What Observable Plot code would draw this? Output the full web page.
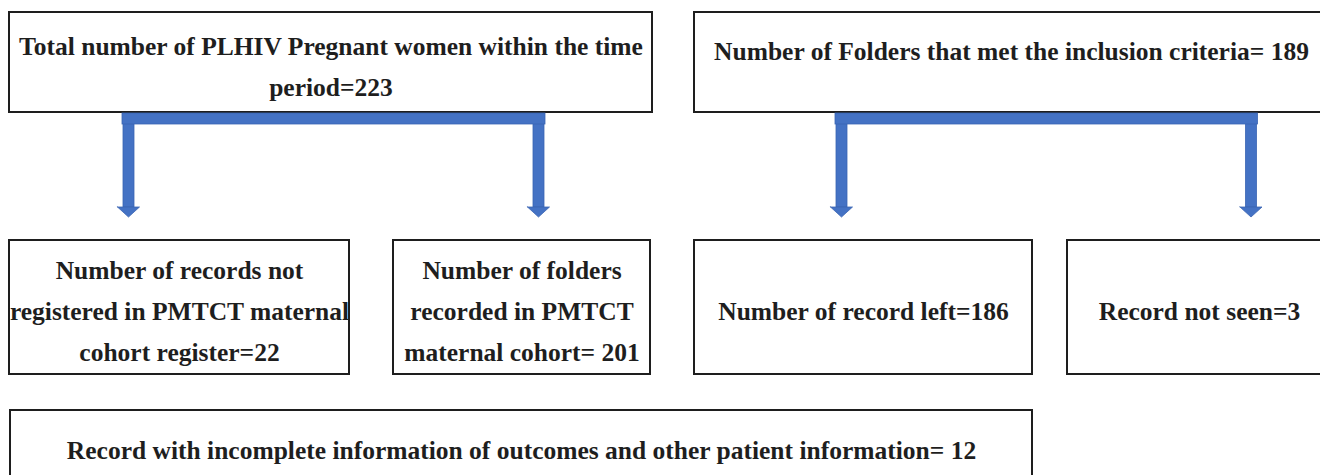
<!DOCTYPE html>
<html><head><meta charset="utf-8">
<script src="https://cdn.jsdelivr.net/npm/d3@7"></script>
<script src="https://cdn.jsdelivr.net/npm/@observablehq/plot@0.6"></script>
<style>body{margin:0;background:#fff;overflow:hidden}</style>
</head><body><div id="chart"></div>
<script>
// Flowchart content
const boxLines = [
  ["Total number of PLHIV Pregnant women within the time", "period=223"],
  ["Number of Folders that met the inclusion criteria= 189"],
  ["Number of records not", "registered in PMTCT maternal", "cohort register=22"],
  ["Number of folders", "recorded in PMTCT", "maternal cohort= 201"],
  ["Number of record left=186"],
  ["Record not seen=3"],
  ["Record with incomplete information of outcomes and other patient information= 12"]
];
// Layout (pixel space)
const boxX1 = [9, 694, 9, 393, 694, 1067, 10];
const boxX2 = [652, 1328, 349, 650, 1032, 1331, 1032];
const boxY1 = [12, 12, 240, 240, 240, 240, 410];
const boxY2 = [112, 112, 374, 374, 374, 374, 490];
const firstLineY = [46, 51, 270, 270, 311, 311, 450];
const lineGap = 41;
// connectors: pairs of arrow centres under each parent box
const connectorArrows = [[128.5, 538.5], [841.5, 1251]];
const barTop = 113, barBottom = 124, shaftEnd = 207, tipY = 217;
const shaftHalf = 5.5, headHalf = 11;

const boxes = boxLines.map((l, i) => ({x1: boxX1[i], x2: boxX2[i], y1: boxY1[i], y2: boxY2[i]}));
const texts = boxLines.flatMap((lines, i) => lines.map((t, j) => ({
  text: t, x: (boxX1[i] + boxX2[i]) / 2, y: firstLineY[i] + j * lineGap
})));
const bars = connectorArrows.map(([a, b]) => ({x1: a - shaftHalf - 1, x2: b + shaftHalf + 1, y1: barTop, y2: barBottom}));
const shafts = connectorArrows.flat().map(c => ({x1: c - shaftHalf, x2: c + shaftHalf, y1: barBottom - 1, y2: shaftEnd}));
const heads = connectorArrows.flat().flatMap((c, k) => [
  {k, x: c - headHalf, y1: shaftEnd, y2: shaftEnd},
  {k, x: c, y1: shaftEnd, y2: tipY},
  {k, x: c + headHalf, y1: shaftEnd, y2: shaftEnd}
]);

const blue = "#4472C4", blueEdge = "#3a65b3";
const chart = Plot.plot({
  width: 1320, height: 475, margin: 0,
  x: {domain: [0, 1320], range: [0, 1320], axis: null},
  y: {domain: [0, 475], range: [0, 475], axis: null},
  style: {fontFamily: "Liberation Serif", background: "#fff"},
  marks: [
    Plot.rect(boxes, {x1: "x1", x2: "x2", y1: "y1", y2: "y2", fill: "white", stroke: "#1e1e1e", strokeWidth: 2}),
    Plot.rect(shafts, {x1: "x1", x2: "x2", y1: "y1", y2: "y2", fill: blue, stroke: blueEdge, strokeWidth: 0.8}),
    Plot.rect(bars, {x1: "x1", x2: "x2", y1: "y1", y2: "y2", fill: blue, stroke: blueEdge, strokeWidth: 0.8}),
    Plot.areaY(heads, {x: "x", y1: "y1", y2: "y2", z: "k", fill: blue, stroke: blueEdge, strokeWidth: 0.8, curve: "linear"}),
    Plot.text(texts, {x: "x", y: "y", text: "text", fontSize: 25.5, fontWeight: "bold", fill: "#1e1e1e", textAnchor: "middle"})
  ]
});
document.getElementById("chart").append(chart);
</script>
</body></html>
